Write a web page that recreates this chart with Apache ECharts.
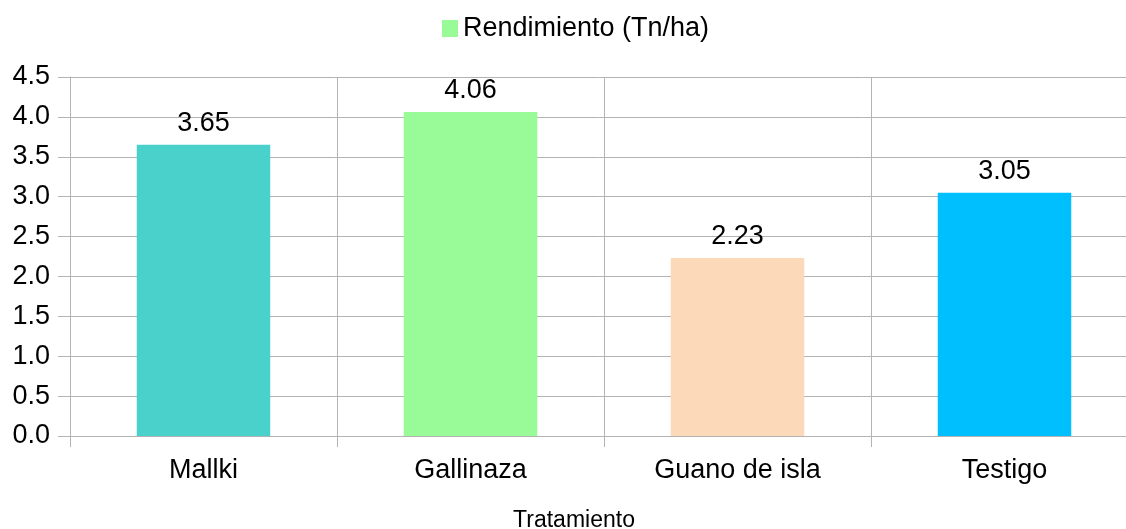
<!DOCTYPE html>
<html><head><meta charset="utf-8">
<script src="https://cdn.jsdelivr.net/npm/echarts@6/dist/echarts.min.js"></script>
<style>html,body{margin:0;padding:0;background:#fff}#c{width:1126px;height:529px}</style>
</head><body><div id="c"></div>
<script>
var categories = ["Mallki", "Gallinaza", "Guano de isla", "Testigo"];
var values = [3.65, 4.06, 2.23, 3.05];
var barColors = ["#4bd1cc", "#98fb98", "#fcdab9", "#00bfff"];
var seriesName = "Rendimiento (Tn/ha)";
var axisName = "Tratamiento";

var chart = echarts.init(document.getElementById('c'));
var font = "Liberation Sans, Arial, sans-serif";
chart.setOption({
  animation: false,
  textStyle: {fontFamily: font},
  legend: {
    top: 10, left: 437, icon: 'rect', itemWidth: 16, itemHeight: 17, itemGap: 9,
    textStyle: {fontSize: 27, color: '#000', fontFamily: font, padding: [0, 0, 0, 0]},
    data: [seriesName]
  },
  grid: {left: 70, right: -12, top: 77, bottom: 93, containLabel: false, outerBoundsMode: 'none'},
  xAxis: {
    type: 'category', data: categories, boundaryGap: true,
    name: axisName, nameLocation: 'middle', nameGap: 73,
    nameTextStyle: {fontSize: 23, color: '#000', fontFamily: font, padding: [0, 60, 0, 0]},
    axisLine: {show: true, lineStyle: {color: '#b3b3b3', width: 1}},
    axisTick: {show: true, length: 11, alignWithLabel: false, lineStyle: {color: '#b3b3b3'}},
    axisLabel: {fontSize: 27, color: '#000', margin: 21, fontFamily: font},
    splitLine: {show: true, lineStyle: {color: '#b3b3b3', width: 1}}
  },
  yAxis: {
    type: 'value', min: 0, max: 4.5, interval: 0.5,
    axisLine: {show: true, lineStyle: {color: '#b3b3b3', width: 1}},
    axisTick: {show: true, length: 12, lineStyle: {color: '#b3b3b3'}},
    axisLabel: {fontSize: 27, color: '#000', margin: 20, fontFamily: font,
      formatter: function(v){ return v.toFixed(1); }},
    splitLine: {show: true, lineStyle: {color: '#b3b3b3', width: 1}}
  },
  series: [{
    name: seriesName, type: 'bar', barWidth: '50%',
    itemStyle: {color: '#98fb98'},
    label: {show: true, position: 'top', distance: 8, fontSize: 27, color: '#000', fontFamily: font,
      formatter: function(p){ return p.value.toFixed(2); }},
    data: values.map(function(v, i){ return {value: v, itemStyle: {color: barColors[i]}}; })
  }]
});
</script></body></html>
